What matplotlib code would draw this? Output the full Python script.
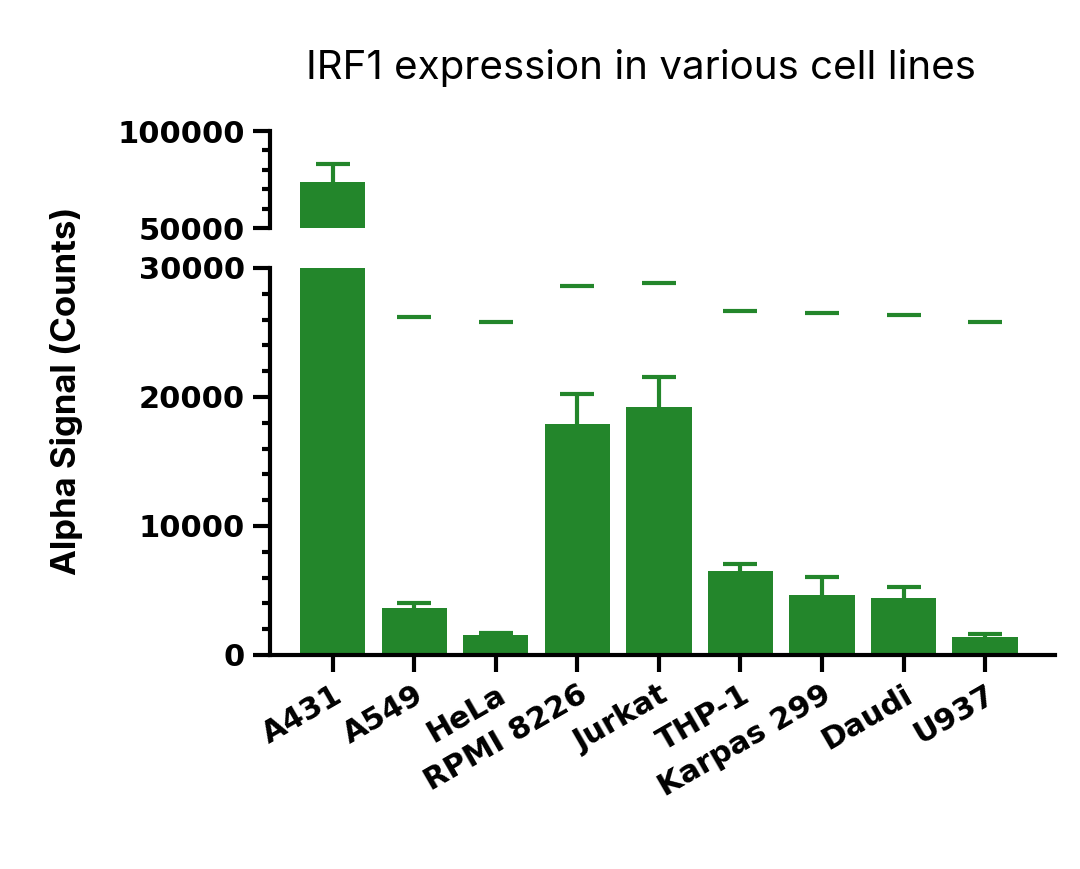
import matplotlib
matplotlib.use("Agg")
import matplotlib.pyplot as plt
import numpy as np

cells = ["A431", "A549", "HeLa", "RPMI 8226", "Jurkat", "THP-1", "Karpas 299", "Daudi", "U937"]
means = [73700, 3640, 1550, 17900, 19200, 6500, 4650, 4400, 1400]
errs = [9300, 390, 150, 2300, 2350, 550, 1400, 870, 230]
color = "#23862b"

plt.rcParams['font.family'] = ['Inter', 'DejaVu Sans']
fig = plt.figure(figsize=(10.8, 8.69), dpi=100)
axl = fig.add_axes([0.25, 0.2463, 0.727, 0.4453])
axu = fig.add_axes([0.25, 0.7376, 0.727, 0.1116])
x = np.arange(len(cells))
tops = np.array(means) + np.array(errs)
for ax in (axl, axu):
    ax.bar(x, means, width=0.8, color=color, zorder=2)
    ax.vlines(x, means, tops, color=color, linewidth=3, zorder=1)
    ax.plot(x, tops, linestyle='none', marker='_', markersize=24, markeredgewidth=3, color=color, zorder=1, clip_on=False)
    ax.set_xlim(-0.77, 8.86)
    for s in ("top", "right"):
        ax.spines[s].set_visible(False)
    ax.spines["left"].set_linewidth(3)
    ax.tick_params(axis='y', which='major', width=3, length=12, pad=6)
    ax.tick_params(axis='y', which='minor', width=3, length=6)

tickfont = dict(family='DejaVu Sans', weight='bold', size=22)
axl.set_ylim(0, 30000)
axl.set_yticks([0, 10000, 20000, 30000])
axl.set_yticklabels(["0", "10000", "20000", "30000"], **tickfont)
axl.set_yticks(np.arange(0, 30001, 2000), minor=True)
axl.spines["bottom"].set_linewidth(3)
axl.set_xticks(x)
axl.set_xticklabels(cells, rotation=30, ha='right', rotation_mode='anchor', **tickfont)
axl.tick_params(axis='x', width=3, length=12, pad=6)

axu.set_ylim(50000, 100000)
axu.set_yticks([50000, 100000])
axu.set_yticklabels(["50000", "100000"], **tickfont)
axu.set_yticks(np.arange(50000, 100001, 10000), minor=True)
axu.spines["bottom"].set_visible(False)
axu.set_xticks([])

fig.text(0.593, 0.922, "IRF1 expression in various cell lines", ha='center', va='center', fontsize=29)
fig.text(0.062, 0.55, "Alpha Signal (Counts)", rotation=90, ha='center', va='center', fontsize=25, fontweight='bold')
fig.savefig("out.png", dpi=100)
